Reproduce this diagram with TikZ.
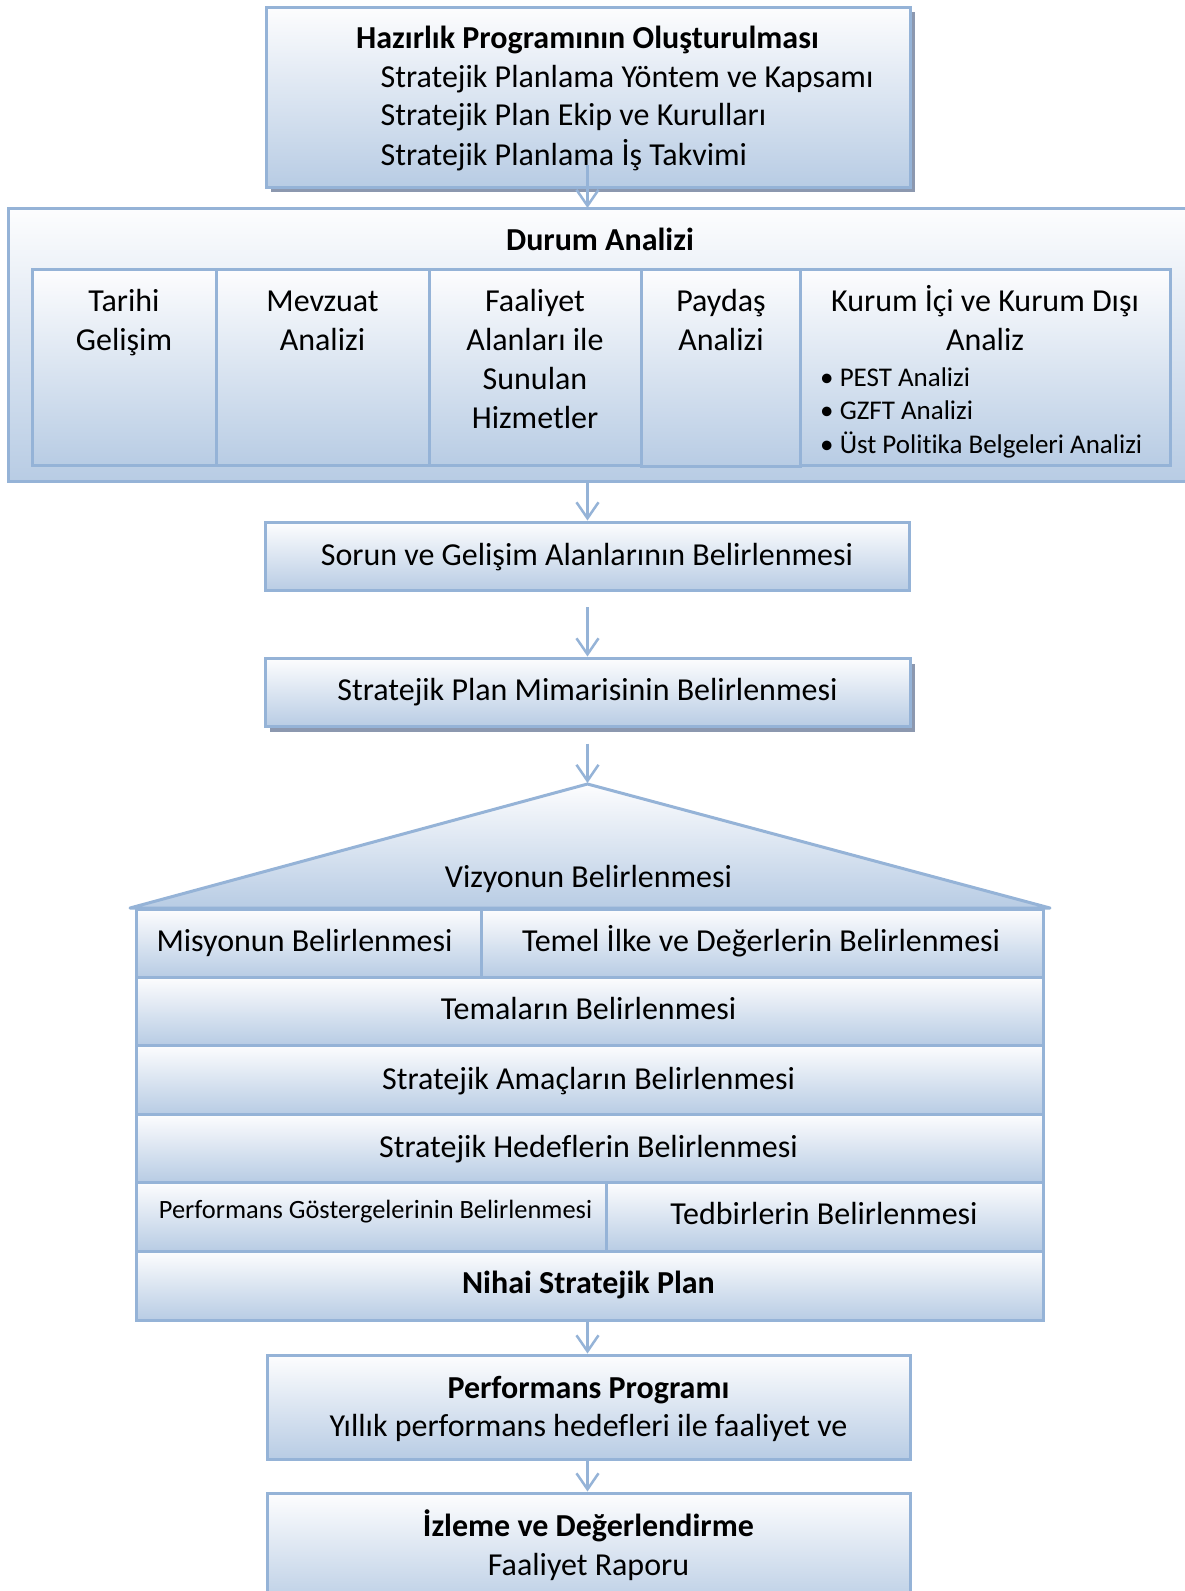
\documentclass[tikz,border=0pt]{standalone}
\usepackage{fontspec}
\setmainfont{Carlito}[Ligatures=NoCommon]
\usetikzlibrary{arrows.meta}
\definecolor{bord}{RGB}{149,179,215}
\definecolor{gbot}{RGB}{184,204,228}
\definecolor{gtop}{RGB}{253,253,254}
\definecolor{shad}{RGB}{140,152,175}
\newcommand\rbox[6][]{\node[box,#1,minimum width={#5-#3},minimum height={#6-#4}] (#2) at (#3,#4) {};}
\begin{document}
\begin{tikzpicture}[x=1pt,y=-1pt,
  box/.style={draw=bord, line width=3pt, top color=gtop, bottom color=gbot, anchor=north west, inner sep=0pt, outer sep=0pt, shape=rectangle},
  txt/.style={font=\fontsize{32}{39}\selectfont, inner sep=0pt, anchor=base},
  btxt/.style={font=\fontsize{32}{39}\selectfont\bfseries, inner sep=0pt, anchor=base},
  ltxt/.style={font=\fontsize{32}{39}\selectfont, inner sep=0pt, anchor=base west},
  stxt/.style={font=\fontsize{27}{33}\selectfont, inner sep=0pt, anchor=base west},
  xstxt/.style={font=\fontsize{26.4}{32}\selectfont, inner sep=0pt, anchor=base},
  arr/.style={draw=bord, line width=2.5pt, -{Straight Barb[length=16pt,width=22pt,line width=2.5pt]}},
  ]
\useasboundingbox (0,0) rectangle (1184,1591);
\fill[white] (0,0) rectangle (1184,1591);

% top box
\fill[shad] (271,12) rectangle (915,192);
\rbox{top}{266}{7}{910}{187}
\node[btxt] (t0) at (587.5,48.5) {Hazırlık Programının Oluşturulması};
\node[ltxt] (t1) at (380.5,87) {Stratejik Planlama Yöntem ve Kapsamı};
\node[ltxt] (t2) at (380.5,125.7) {Stratejik Plan Ekip ve Kurulları};
\node[ltxt] (t3) at (380.5,165) {Stratejik Planlama İş Takvimi};

% durum analizi
\rbox{durum}{8}{208}{1200}{481}
\node[btxt] (dtitle) at (600,250.5) {Durum Analizi};
\rbox{c1}{32.5}{269}{216}{465}
\rbox{c2}{216}{269}{429}{465}
\rbox{c3}{429}{269}{641}{465}
\rbox{c4}{641}{269}{800.5}{466}
\rbox{c5}{800.5}{269}{1170}{465}
\node[txt] (c1a) at (124,311) {Tarihi};
\node[txt] (c1b) at (124,350) {Gelişim};
\node[txt] (c2a) at (322.5,311) {Mevzuat};
\node[txt] (c2b) at (322.5,350) {Analizi};
\node[txt] (c3a) at (535,311) {Faaliyet};
\node[txt] (c3b) at (535,350) {Alanları ile};
\node[txt] (c3c) at (535,389) {Sunulan};
\node[txt] (c3d) at (535,428) {Hizmetler};
\node[txt] (c4a) at (721,311) {Paydaş};
\node[txt] (c4b) at (721,350) {Analizi};
\node[txt] (c5a) at (985,311) {Kurum İçi ve Kurum Dışı};
\node[txt] (c5b) at (985,350) {Analiz};
\node[stxt] (c5c) at (820,386) {•\ PEST Analizi};
\node[stxt] (c5d) at (820,419.5) {•\ GZFT Analizi};
\node[stxt] (c5e) at (820,453) {•\ Üst Politika Belgeleri Analizi};

% sorun
\rbox{sorun}{265}{522.5}{909}{590.5}
\node[txt] (sorunt) at (587,565) {Sorun ve Gelişim Alanlarının Belirlenmesi};

% mimari
\fill[shad] (270,663.5) rectangle (915,731.5);
\rbox{mimari}{265}{658.5}{910}{726.5}
\node[txt] (mimarit) at (587.5,700) {Stratejik Plan Mimarisinin Belirlenmesi};

% house
\coordinate (apex) at (587.5,784);
\filldraw[draw=bord, line width=3pt, top color=gtop, bottom color=gbot, line join=round]
  (apex) -- (1050,908) -- (130,908) -- cycle;
\node[txt] (vizt) at (588.5,887.5) {Vizyonun Belirlenmesi};
\rbox{misyon}{136}{909}{481}{977}
\rbox{temel}{481}{909}{1043}{977}
\node[txt] (misyont) at (304.5,951.5) {Misyonun Belirlenmesi};
\node[txt] (temelt) at (761,951.5) {Temel İlke ve Değerlerin Belirlenmesi};
\rbox{tema}{136}{977}{1043}{1045}
\node[txt] (temat) at (588.5,1019.5) {Temaların Belirlenmesi};
\rbox{amac}{136}{1045}{1043}{1114}
\node[txt] (amact) at (588.5,1089.5) {Stratejik Amaçların Belirlenmesi};
\rbox{hedef}{136}{1114}{1043}{1182}
\node[txt] (hedeft) at (588.5,1157.5) {Stratejik Hedeflerin Belirlenmesi};
\rbox{perfg}{136}{1182}{606}{1251}
\rbox{tedbir}{606}{1182}{1043}{1251}
\node[xstxt] (perfgt) at (375.5,1218.5) {Performans Göstergelerinin Belirlenmesi};
\node[txt] (tedbirt) at (824,1224.5) {Tedbirlerin Belirlenmesi};
\rbox{nihai}{136}{1251}{1043}{1320}
\node[btxt] (nihait) at (588.5,1293.5) {Nihai Stratejik Plan};

% performans programi
\rbox{perf}{267}{1355.5}{910}{1459}
\node[btxt] (perfa) at (588.5,1398) {Performans Programı};
\node[txt] (perfb) at (588.5,1436.5) {Yıllık performans hedefleri ile faaliyet ve};

% izleme
\rbox{izl}{267}{1493.5}{910}{1610}
\node[btxt] (izla) at (588.5,1536) {İzleme ve Değerlendirme};
\node[txt] (izlb) at (588.5,1575.5) {Faaliyet Raporu};

% arrows
\coordinate (ax) at (587.5,0);
\draw[arr] (ax |- 0,165) -- (ax |- durum.north);
\draw[arr] (ax |- durum.south) -- ([yshift=2pt]ax |- sorun.north);
\draw[arr] (ax |- 0,607) -- ([yshift=2pt]ax |- mimari.north);
\draw[arr] (ax |- 0,743.5) -- ([yshift=1pt]apex);
\draw[arr] (ax |- nihai.south) -- ([yshift=2pt]ax |- perf.north);
\draw[arr] (ax |- perf.south) -- ([yshift=2pt]ax |- izl.north);
\end{tikzpicture}
\end{document}
